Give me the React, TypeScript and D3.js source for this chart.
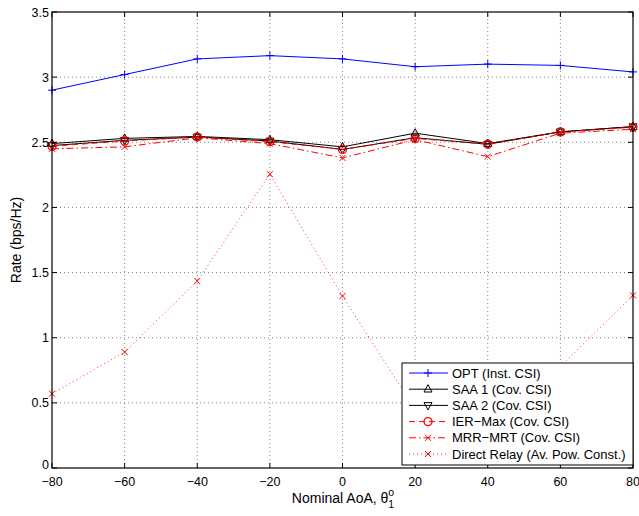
import React from 'react';
import * as d3 from 'd3';

const aoa = [-80, -60, -40, -20, 0, 20, 40, 60, 80];
const opt = [2.9, 3.02, 3.14, 3.165, 3.14, 3.08, 3.1, 3.09, 3.04];
const saa1 = [2.49, 2.53, 2.545, 2.52, 2.465, 2.57, 2.49, 2.58, 2.62];
const saa2 = [2.475, 2.515, 2.54, 2.51, 2.445, 2.535, 2.485, 2.58, 2.62];
const ierMax = [2.47, 2.51, 2.54, 2.505, 2.445, 2.53, 2.485, 2.58, 2.615];
const mrrMrt = [2.45, 2.465, 2.535, 2.49, 2.38, 2.52, 2.39, 2.57, 2.6];
const directRelay = [0.57, 0.89, 1.435, 2.255, 1.32, 0.45, 0.52, 0.78, 1.325];

const xTicks = [-80, -60, -40, -20, 0, 20, 40, 60, 80];
const yTicks = [0, 0.5, 1, 1.5, 2, 2.5, 3, 3.5];

const W = 639;
const H = 516;
const margin = { left: 52, right: 5, top: 12, bottom: 48 };

type Marker = 'plus' | 'up' | 'down' | 'circle' | 'x';

interface Series {
  name: string;
  values: number[];
  color: string;
  dash: string;
  marker: Marker;
  width: number;
}

const series: Series[] = [
  { name: 'OPT (Inst. CSI)', values: opt, color: '#0000ff', dash: '', marker: 'plus', width: 1 },
  { name: 'SAA 1 (Cov. CSI)', values: saa1, color: '#000000', dash: '', marker: 'up', width: 1 },
  { name: 'SAA 2 (Cov. CSI)', values: saa2, color: '#000000', dash: '', marker: 'down', width: 1 },
  { name: 'IER\u2212Max (Cov. CSI)', values: ierMax, color: '#ff0000', dash: '6,4', marker: 'circle', width: 1 },
  { name: 'MRR\u2212MRT (Cov. CSI)', values: mrrMrt, color: '#ff0000', dash: '7,3,1.5,3', marker: 'x', width: 1 },
  { name: 'Direct Relay (Av. Pow. Const.)', values: directRelay, color: '#ff0000', dash: '1,3', marker: 'x', width: 0.8 },
];

function MarkerShape({ type, x, y, color }: { type: Marker; x: number; y: number; color: string }) {
  const s = 4;
  switch (type) {
    case 'plus':
      return (
        <path d={`M${x - s},${y}H${x + s}M${x},${y - s}V${y + s}`} stroke={color} strokeWidth={1} fill="none" />
      );
    case 'up':
      return (
        <path d={`M${x},${y - s - 0.5}L${x + s},${y + s * 0.7}L${x - s},${y + s * 0.7}Z`} stroke={color} strokeWidth={1} fill="none" />
      );
    case 'down':
      return (
        <path d={`M${x},${y + s + 0.5}L${x + s},${y - s * 0.7}L${x - s},${y - s * 0.7}Z`} stroke={color} strokeWidth={1} fill="none" />
      );
    case 'circle':
      return <circle cx={x} cy={y} r={4} stroke={color} strokeWidth={1.3} fill="none" />;
    case 'x':
      return (
        <path d={`M${x - 3},${y - 3}L${x + 3},${y + 3}M${x - 3},${y + 3}L${x + 3},${y - 3}`} stroke={color} strokeWidth={1} fill="none" />
      );
  }
}

export default function App() {
  const x = d3.scaleLinear().domain([-80, 80]).range([margin.left, W - margin.right - 1]);
  const y = d3.scaleLinear().domain([0, 3.5]).range([H - margin.bottom, margin.top]);
  const x0 = x(-80), x1 = x(80), y0 = y(0), y1 = y(3.5);

  const line = d3
    .line<number>()
    .x((_, i) => x(aoa[i]))
    .y((d) => y(d));

  const font = "'Liberation Sans', Arial, Helvetica, sans-serif";

  // legend geometry
  const lg = { x: 402, y: 363, w: 231, h: 102, row: 16.2 };

  return (
    <div style={{ position: 'absolute', left: 0, top: 0 }}>
      <svg width={W} height={H} style={{ display: 'block', background: '#fff', fontFamily: font }}>
        <rect x={0} y={0} width={W} height={H} fill="#fff" />
        {/* grid */}
        <g stroke="#666" strokeWidth={0.8} strokeDasharray="1,3">
          {xTicks.slice(1, -1).map((t) => (
            <line key={'gx' + t} x1={x(t)} x2={x(t)} y1={y0} y2={y1} />
          ))}
          {yTicks.slice(1, -1).map((t) => (
            <line key={'gy' + t} x1={x0} x2={x1} y1={y(t)} y2={y(t)} />
          ))}
        </g>
        {/* series */}
        {series.map((s) => (
          <g key={s.name}>
            <path d={line(s.values) || ''} fill="none" stroke={s.color} strokeWidth={s.width} strokeDasharray={s.dash || undefined} />
            {s.values.map((v, i) => (
              <MarkerShape key={i} type={s.marker} x={x(aoa[i])} y={y(v)} color={s.color} />
            ))}
          </g>
        ))}
        {/* box and ticks */}
        <rect x={x0} y={y1} width={x1 - x0} height={y0 - y1} fill="none" stroke="#000" strokeWidth={1.2} />
        <g stroke="#000" strokeWidth={1}>
          {xTicks.map((t) => (
            <g key={'tx' + t}>
              <line x1={x(t)} x2={x(t)} y1={y0} y2={y0 - 5} />
              <line x1={x(t)} x2={x(t)} y1={y1} y2={y1 + 5} />
            </g>
          ))}
          {yTicks.map((t) => (
            <g key={'ty' + t}>
              <line x1={x0} x2={x0 + 5} y1={y(t)} y2={y(t)} />
              <line x1={x1} x2={x1 - 5} y1={y(t)} y2={y(t)} />
            </g>
          ))}
        </g>
        {/* tick labels */}
        <g fontSize={12.5} fill="#000">
          {xTicks.map((t) => (
            <text key={'lx' + t} x={x(t)} y={y0 + 18} textAnchor="middle">
              {t < 0 ? '\u2212' + Math.abs(t) : String(t)}
            </text>
          ))}
          {yTicks.map((t) => (
            <text key={'ly' + t} x={x0 - 3} y={y(t) + (t === 0 ? 1 : 4.5)} textAnchor="end">
              {String(t)}
            </text>
          ))}
        </g>
        {/* axis labels */}
        <text x={343} y={503} textAnchor="middle" fontSize={14}>
          Nominal AoA, θ
          <tspan fontSize={10.5} dy={-7}>o</tspan>
          <tspan fontSize={10.5} dx={-6} dy={12}>1</tspan>
        </text>
        <text transform={`translate(21,${(y0 + y1) / 2}) rotate(-90)`} textAnchor="middle" fontSize={14}>
          Rate (bps/Hz)
        </text>
        {/* legend */}
        <rect x={lg.x} y={lg.y} width={lg.w} height={lg.h} fill="#fff" stroke="#000" strokeWidth={1} />
        {series.map((s, i) => {
          const cy = lg.y + 10 + i * lg.row;
          return (
            <g key={'lg' + s.name}>
              <line x1={lg.x + 7} x2={lg.x + 46} y1={cy} y2={cy} stroke={s.color} strokeWidth={s.width} strokeDasharray={s.dash || undefined} />
              <MarkerShape type={s.marker} x={lg.x + 26} y={cy} color={s.color} />
              <text x={lg.x + 50} y={cy + 4.5} fontSize={13}>
                {s.name}
              </text>
            </g>
          );
        })}
      </svg>
    </div>
  );
}
